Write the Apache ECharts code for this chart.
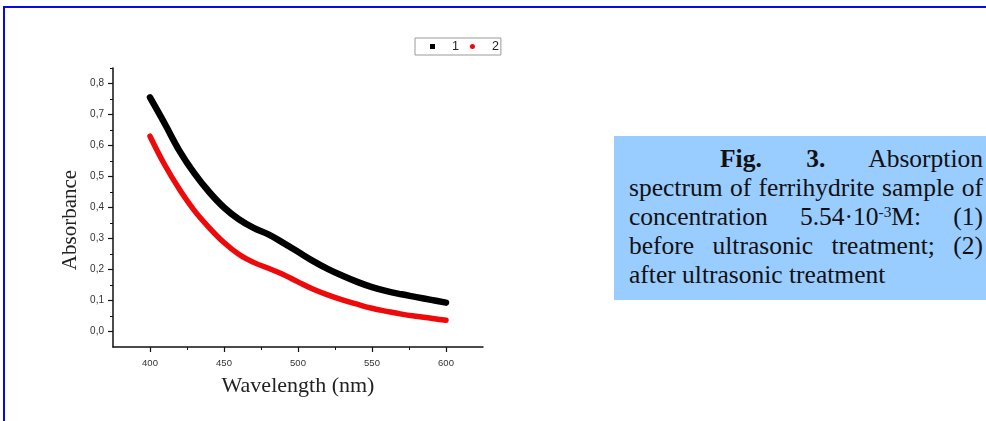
<!DOCTYPE html>
<html>
<head>
<meta charset="utf-8">
<script src="https://cdn.jsdelivr.net/npm/echarts@6/dist/echarts.min.js"></script>
<style>
  html, body { margin: 0; padding: 0; background: #fff; }
  #wrap { position: relative; width: 986px; height: 421px; overflow: hidden; }
  #chart { position: absolute; left: 0; top: 0; width: 986px; height: 421px; }
  #frame { position: absolute; left: 3px; top: 6px; right: -4px; bottom: -4px;
           border-top: 2px solid #0a0ae6; border-left: 2px solid #0a0ae6; pointer-events: none; }
  #caption { position: absolute; left: 614px; top: 136px; width: 354px; height: 156px;
             padding: 8px 3px 0 15px; background: #99ccff;
             font-family: "Liberation Serif", "Times New Roman", serif; font-size: 25.5px;
             line-height: 29px; color: #111; }
  #caption .ln { display: block; text-align: justify; text-align-last: justify; white-space: nowrap; }
  #caption .ln.last { text-align: left; text-align-last: left; }
  #caption .first { text-indent: 91px; }
  #caption sup { font-size: 0.6em; line-height: 0; vertical-align: 0.55em; }
</style>
</head>
<body>
<div id="wrap">
  <div id="chart"></div>
  <div id="frame"></div>
  <div id="caption">
    <span class="ln first"><b>Fig.</b> <b>3.</b> Absorption</span>
    <span class="ln">spectrum of ferrihydrite sample of</span>
    <span class="ln">concentration 5.54·10<sup>-3</sup>M: (1)</span>
    <span class="ln">before ultrasonic treatment; (2)</span>
    <span class="ln last">after ultrasonic treatment</span>
  </div>
</div>
<script>
// Wavelength grid (nm) and absorbance of the two samples
const wavelengths = [400, 410, 420, 430, 440, 450, 460, 470, 480, 490, 500,
                     510, 520, 530, 540, 550, 560, 570, 580, 590, 600];
const absorbanceBefore = [0.755, 0.670, 0.582, 0.510, 0.450, 0.400, 0.362, 0.334, 0.313, 0.286, 0.257,
                          0.228, 0.202, 0.180, 0.160, 0.143, 0.130, 0.120, 0.111, 0.102, 0.093];
const absorbanceAfter = [0.630, 0.537, 0.458, 0.390, 0.335, 0.287, 0.249, 0.223, 0.204, 0.184, 0.160,
                         0.137, 0.118, 0.102, 0.088, 0.075, 0.065, 0.056, 0.049, 0.043, 0.036];
const seriesNames = ['1', '2'];

// Axis ticks
const xMajorTicks = [400, 450, 500, 550, 600];
const xMinorTicks = [425, 475, 525, 575];
const yMajorTicks = [0.0, 0.1, 0.2, 0.3, 0.4, 0.5, 0.6, 0.7, 0.8];
const yMinorTicks = [0.05, 0.15, 0.25, 0.35, 0.45, 0.55, 0.65, 0.75, 0.85];

const xTitle = 'Wavelength (nm)';
const yTitle = 'Absorbance';

const pair = (xs, ys) => xs.map((x, i) => [x, ys[i]]);
const labelFont = '"Liberation Sans", Arial, sans-serif';
const serifFont = '"Liberation Serif", "Times New Roman", serif';
const axisLine = { show: true, onZero: false, lineStyle: { color: '#111', width: 1.5 } };

const chart = echarts.init(document.getElementById('chart'), null, { renderer: 'canvas' });
chart.setOption({
  backgroundColor: 'transparent',
  animation: false,
  grid: { left: 113, top: 68, width: 370, height: 279, containLabel: false },
  legend: {
    data: [
      { name: seriesNames[0], icon: 'rect' },
      { name: seriesNames[1], icon: 'circle' }
    ],
    left: 415, top: 38,
    padding: [2, 2, 2, 15],
    itemWidth: 5, itemHeight: 5, itemGap: 11,
    borderColor: '#9a9a9a', borderWidth: 1,
    textStyle: { fontFamily: labelFont, fontSize: 12.5, color: '#222', padding: [0, 0, 0, 12] }
  },
  xAxis: [
    {
      type: 'value', min: 375, max: 625,
      name: xTitle, nameLocation: 'middle', nameGap: 28,
      nameTextStyle: { fontFamily: serifFont, fontSize: 22, color: '#222' },
      axisLine: axisLine,
      axisTick: { show: true, inside: false, length: 5, customValues: xMajorTicks,
                  lineStyle: { color: '#111', width: 1.2 } },
      axisLabel: { customValues: xMajorTicks, fontFamily: labelFont, fontSize: 9.5, color: '#333', margin: 11 },
      splitLine: { show: false }
    },
    {
      type: 'value', min: 375, max: 625, position: 'bottom',
      axisLine: { show: false, onZero: false },
      axisTick: { show: true, length: 3, customValues: xMinorTicks, lineStyle: { color: '#111', width: 1 } },
      axisLabel: { show: false },
      splitLine: { show: false }
    }
  ],
  yAxis: [
    {
      type: 'value', min: -0.05, max: 0.85,
      axisLine: axisLine,
      axisTick: { show: true, length: 5, customValues: yMajorTicks, lineStyle: { color: '#111', width: 1.2 } },
      axisLabel: { customValues: yMajorTicks, fontFamily: labelFont, fontSize: 10, color: '#333', margin: 9,
                   formatter: v => v.toFixed(1).replace('.', ',') },
      splitLine: { show: false }
    },
    {
      type: 'value', min: -0.05, max: 0.85, position: 'left',
      axisLine: { show: false, onZero: false },
      axisTick: { show: true, length: 3, customValues: yMinorTicks, lineStyle: { color: '#111', width: 1 } },
      axisLabel: { show: false },
      splitLine: { show: false }
    }
  ],
  graphic: [
    {
      type: 'text', x: 70, y: 220, rotation: Math.PI / 2,
      style: { text: yTitle, font: '21px ' + serifFont, fill: '#222', align: 'center', verticalAlign: 'middle' }
    }
  ],
  series: [
    {
      name: seriesNames[0], type: 'line', smooth: 0.4, showSymbol: false,
      data: pair(wavelengths, absorbanceBefore),
      itemStyle: { color: '#000' },
      lineStyle: { color: '#000', width: 6.5, cap: 'round', join: 'round' },
      z: 3
    },
    {
      name: seriesNames[1], type: 'line', smooth: 0.4, showSymbol: false,
      data: pair(wavelengths, absorbanceAfter),
      itemStyle: { color: '#ee0a0a' },
      lineStyle: { color: '#ee0a0a', width: 5.5, cap: 'round', join: 'round' },
      z: 2
    }
  ]
});
</script>
</body>
</html>
